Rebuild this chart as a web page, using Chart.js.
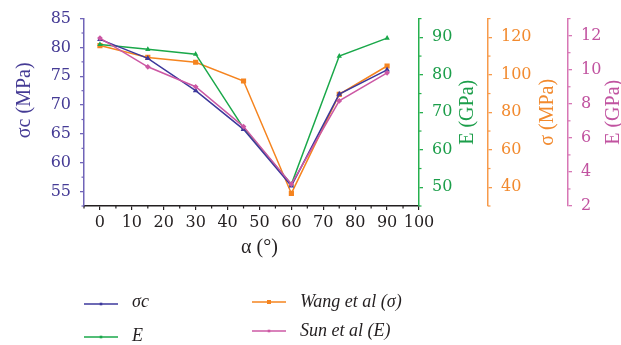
<!DOCTYPE html>
<html><head><meta charset="utf-8">
<script src="https://cdn.jsdelivr.net/npm/chart.js@4"></script>
<style>html,body{margin:0;padding:0;background:#fff;overflow:hidden}</style>
</head><body>
<canvas id="c" width="621" height="345"></canvas>
<script>
// ---- data ----
const angles = [0, 15, 30, 45, 60, 75, 90];
const sigmaC = [81.4, 78.1, 72.5, 65.8, 56.0, 71.9, 76.1];
const modE = [88.1, 86.8, 85.5, 65.8, 50.8, 85.0, 89.8];
const wangSigma = [115.6, 109.3, 106.7, 96.7, 36.7, 89.6, 104.7];
const sunE = [11.86, 10.17, 9.0, 6.66, 3.28, 8.17, 9.82];

const xTicks = [0, 10, 20, 30, 40, 50, 60, 70, 80, 90, 100];
const sigmaTicks = [55, 60, 65, 70, 75, 80, 85];
const eTicks = [50, 60, 70, 80, 90];
const wangTicks = [40, 60, 80, 100, 120];
const sunTicks = [2, 4, 6, 8, 10, 12];

const seriesLabels = ['σc', 'E', 'Wang et al (σ)', 'Sun et al (E)'];

// ---- styles ----
const C = {
  blueLine: '#3d389c', blueAxis: '#7064b8', blueText: '#453b95',
  greenLine: '#1aa84a', greenAxis: '#26b04e', greenText: '#1c9e4a',
  orangeLine: '#f5841f', orangeAxis: '#f79a4a', orangeText: '#f28a2e',
  pinkLine: '#cc58a4', pinkAxis: '#d777b5', pinkText: '#c153a0',
  dark: '#231f20'
};
const tickFont = {family: 'DejaVu Serif', size: 16};
const titleFont = '20px "Liberation Serif"';

const pts = arr => angles.map((a, i) => ({x: a, y: arr[i]}));
const setTicks = arr => s => { s.ticks = arr.map(v => ({value: v})); };

function yAxis(pos, min, max, ticksArr, axisColor, textColor, width) {
  return {
    type: 'linear', position: pos, min: min, max: max,
    afterBuildTicks: setTicks(ticksArr),
    afterFit: s => { s.width = width; },
    grid: {drawOnChartArea: false, drawTicks: true, tickLength: 4, color: axisColor, lineWidth: 1.3},
    border: {display: true, color: axisColor, width: 1.5},
    ticks: {color: textColor, font: tickFont, padding: 9, autoSkip: false}
  };
}

const minorSpec = {
  x: {step: 5, major: xTicks},
  y: {step: 2.5, major: sigmaTicks},
  yE: {step: 5, major: eTicks},
  yW: {step: 10, major: wangTicks},
  yS: {step: 1, major: sunTicks}
};

const minorTicksPlugin = {
  id: 'minorTicks',
  afterDraw(chart) {
    const ctx = chart.ctx;
    ctx.save();
    for (const id in minorSpec) {
      const s = chart.scales[id];
      const spec = minorSpec[id];
      ctx.strokeStyle = s.options.border.color;
      ctx.lineWidth = 1.2;
      const k0 = Math.ceil(s.min / spec.step - 1e-9), k1 = Math.floor(s.max / spec.step + 1e-9);
      for (let k = k0; k <= k1; k++) {
        const v = k * spec.step;
        if (spec.major.some(m => Math.abs(m - v) < 1e-9)) continue;
        const p = s.getPixelForValue(v);
        ctx.beginPath();
        if (id === 'x') { ctx.moveTo(p, s.top); ctx.lineTo(p, s.top + 2.5); }
        else if (s.position === 'left') { ctx.moveTo(s.right, p); ctx.lineTo(s.right - 2.5, p); }
        else { ctx.moveTo(s.left, p); ctx.lineTo(s.left + 2.5, p); }
        ctx.stroke();
      }
    }
    ctx.restore();
  }
};

const titlesPlugin = {
  id: 'axisTitles',
  afterDraw(chart) {
    const ctx = chart.ctx, sc = chart.scales, ca = chart.chartArea;
    ctx.save();
    ctx.font = titleFont;
    ctx.textAlign = 'center';
    ctx.textBaseline = 'middle';
    const vt = (text, x, y, color) => {
      ctx.save(); ctx.translate(x, y); ctx.rotate(-Math.PI / 2);
      ctx.fillStyle = color; ctx.fillText(text, 0, 0); ctx.restore();
    };
    const midY = (ca.top + ca.bottom) / 2;
    vt('σc (MPa)', sc.y.left + 25, midY - 12, C.blueText);
    vt('E (GPa)', sc.yE.left + 49, midY, C.greenText);
    vt('σ (MPa)', sc.yW.left + 60, midY, C.orangeText);
    vt('E (GPa)', sc.yS.left + 46, midY, C.pinkText);
    ctx.fillStyle = C.dark;
    ctx.fillText('α (°)', (ca.left + ca.right) / 2 + 8, sc.x.top + 42);
    ctx.restore();
  }
};

const legendPlugin = {
  id: 'customLegend',
  afterDraw(chart) {
    const ctx = chart.ctx, ca = chart.chartArea;
    const items = [
      {ds: 0, x: ca.left, y: 304, ty: 302},
      {ds: 1, x: ca.left, y: 337, ty: 336},
      {ds: 2, x: ca.left + 168, y: 302, ty: 302},
      {ds: 3, x: ca.left + 168, y: 331, ty: 331}
    ];
    ctx.save();
    for (const it of items) {
      const d = chart.data.datasets[it.ds];
      ctx.strokeStyle = d.borderColor; ctx.lineWidth = 1.5;
      ctx.beginPath(); ctx.moveTo(it.x, it.y); ctx.lineTo(it.x + 34, it.y); ctx.stroke();
      ctx.fillStyle = d.borderColor;
      const r = it.ds === 2 ? 2 : 1.3;
      ctx.fillRect(it.x + 17 - r, it.y - r, 2 * r, 2 * r);
      ctx.font = 'italic 18px "Liberation Serif"';
      ctx.fillStyle = C.dark;
      ctx.textBaseline = 'middle'; ctx.textAlign = 'left';
      ctx.fillText(seriesLabels[it.ds], it.x + 48, it.ty);
    }
    ctx.restore();
  }
};

new Chart(document.getElementById('c'), {
  type: 'line',
  data: {
    datasets: [
      {label: seriesLabels[0], data: pts(sigmaC), yAxisID: 'y', borderColor: C.blueLine, backgroundColor: C.blueLine,
       borderWidth: 1.5, pointRadius: 1.8, pointStyle: 'triangle', order: 2},
      {label: seriesLabels[1], data: pts(modE), yAxisID: 'yE', borderColor: C.greenLine, backgroundColor: C.greenLine,
       borderWidth: 1.5, pointRadius: 1.6, pointStyle: 'triangle', order: 3},
      {label: seriesLabels[2], data: pts(wangSigma), yAxisID: 'yW', borderColor: C.orangeLine, backgroundColor: C.orangeLine,
       borderWidth: 1.5, pointRadius: 2.6, pointStyle: 'rect', order: 4},
      {label: seriesLabels[3], data: pts(sunE), yAxisID: 'yS', borderColor: C.pinkLine, backgroundColor: C.pinkLine,
       borderWidth: 1.5, pointRadius: 1.8, pointStyle: 'rectRot', order: 1}
    ]
  },
  options: {
    responsive: false, animation: false, devicePixelRatio: 1,
    layout: {padding: {top: 17, bottom: 81, left: 0, right: 0}},
    plugins: {legend: {display: false}, tooltip: {enabled: false}},
    scales: {
      x: {
        type: 'linear', position: 'bottom', min: -5, max: 100,
        afterBuildTicks: setTicks(xTicks),
        afterFit: s => { s.height = 58; },
        grid: {drawOnChartArea: false, drawTicks: true, tickLength: 4, color: C.dark, lineWidth: 1.2},
        border: {display: true, color: C.dark, width: 1.5},
        ticks: {color: C.dark, font: tickFont, padding: 3, autoSkip: false, maxRotation: 0}
      },
      y: yAxis('left', 52.5, 85, sigmaTicks, C.blueAxis, C.blueText, 84),
      yE: yAxis('right', 45, 95, eTicks, C.greenAxis, C.greenText, 69),
      yW: yAxis('right', 30, 130, wangTicks, C.orangeAxis, C.orangeText, 80),
      yS: yAxis('right', 2, 13, sunTicks, C.pinkAxis, C.pinkText, 53)
    }
  },
  plugins: [minorTicksPlugin, titlesPlugin, legendPlugin]
});
</script>
</body></html>
